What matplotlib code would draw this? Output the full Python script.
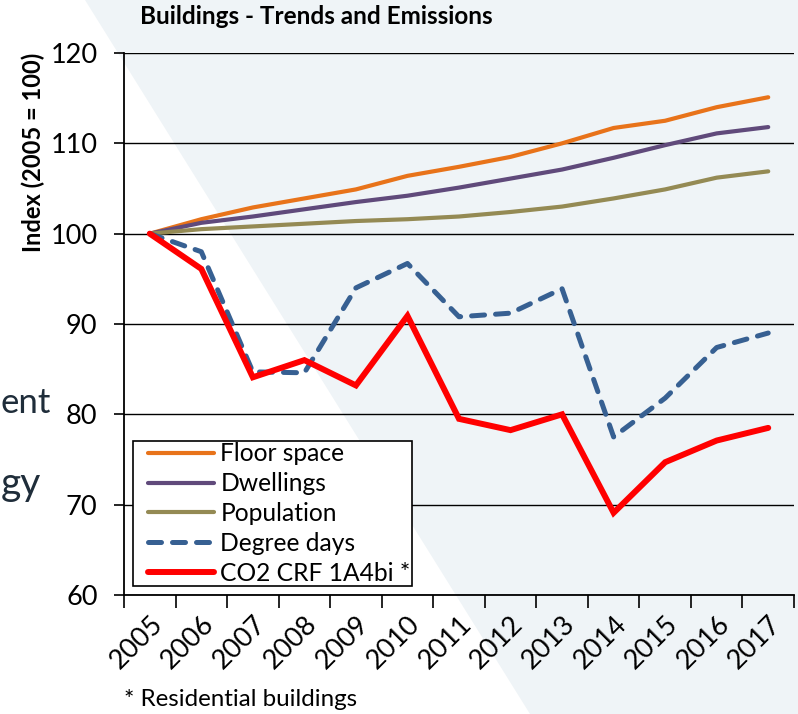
import matplotlib
matplotlib.use("Agg")
import matplotlib.pyplot as plt
from matplotlib.patches import Polygon
from matplotlib.legend_handler import HandlerLine2D
import numpy as np

years = ["2005", "2006", "2007", "2008", "2009", "2010", "2011",
         "2012", "2013", "2014", "2015", "2016", "2017"]
floor_space = [100, 101.6, 102.9, 103.9, 104.9, 106.4, 107.4, 108.5, 110.0, 111.7, 112.5, 114.0, 115.1]
dwellings = [100, 101.2, 101.9, 102.7, 103.5, 104.2, 105.1, 106.1, 107.1, 108.4, 109.8, 111.1, 111.8]
population = [100, 100.5, 100.8, 101.1, 101.4, 101.6, 101.9, 102.4, 103.0, 103.9, 104.9, 106.2, 106.9]
degree_days = [100, 98.0, 84.7, 84.6, 94.0, 96.7, 90.8, 91.2, 93.9, 77.5, 81.8, 87.4, 89.0]
co2 = [100, 96.1, 84.1, 86.0, 83.2, 90.9, 79.5, 78.25, 80.0, 69.1, 74.7, 77.1, 78.5]

W, H = 798, 714
fig = plt.figure(figsize=(W / 100, H / 100), dpi=100)
fig.patch.set_facecolor("#EFF4F7")

# white diagonal region (slide background)
tri = Polygon([(0, 1), (85 / W, 1), (530 / W, 0), (0, 0)], closed=True,
              transform=fig.transFigure, facecolor="white", edgecolor="none", zorder=-10)
fig.add_artist(tri)

font = "Lato"
ax = fig.add_axes([124 / W, 1 - 595 / H, (794 - 124) / W, (595 - 53) / H])
ax.set_facecolor("none")
ax.set_zorder(1)

x = np.arange(len(years))
ax.plot(x, floor_space, color="#E8731A", lw=3.0, solid_capstyle="round", label="Floor space", zorder=3)
ax.plot(x, dwellings, color="#604A7B", lw=3.0, solid_capstyle="round", label="Dwellings", zorder=3)
ax.plot(x, population, color="#948A54", lw=3.0, solid_capstyle="round", label="Population", zorder=3)
ax.plot(x, degree_days, color="#376092", lw=3.6, dashes=(2.6, 2.2), dash_capstyle="round",
        label="Degree days", zorder=4)
ax.plot(x, co2, color="#FF0000", lw=4.3, solid_capstyle="round", solid_joinstyle="miter",
        label="CO2 CRF 1A4bi *", zorder=5)

ax.set_xlim(-0.5, len(years) - 0.5)
ax.set_ylim(60, 120)
ax.set_yticks(np.arange(60, 121, 10))
ax.yaxis.grid(True, color="black", lw=1.0)
ax.set_axisbelow(True)

tick_fs = 19.5
ax.set_xticks(x)
ax.set_xticklabels(years, rotation=45, ha="right", va="top", rotation_mode="anchor",
                   fontsize=tick_fs, family=font)
ax.tick_params(axis="x", which="major", length=0, pad=12)
ax.set_xticks(np.arange(-0.5, len(years), 1.0), minor=True)
ax.tick_params(axis="x", which="minor", length=9, width=1.2, direction="out")
ax.tick_params(axis="y", length=7, width=1.2, direction="out", pad=12)
for lab in ax.get_yticklabels():
    lab.set_fontsize(tick_fs)
    lab.set_family(font)

for s in ["top", "right"]:
    ax.spines[s].set_visible(False)
for s in ["left", "bottom"]:
    ax.spines[s].set_linewidth(1.3)
    ax.spines[s].set_color("black")


class ShiftedLine(HandlerLine2D):
    shift = 10.0  # points

    def create_artists(self, legend, orig_handle, xdescent, ydescent, width, height,
                       fontsize, trans):
        arts = super().create_artists(legend, orig_handle, xdescent, ydescent, width,
                                      height, fontsize, trans)
        for a in arts:
            a.set_xdata(np.asarray(a.get_xdata()) + self.shift)
        return arts


leg = ax.legend(loc="lower left", bbox_to_anchor=(9 / 670, 9 / 542), borderaxespad=0,
                frameon=True, fancybox=False, framealpha=1, edgecolor="black",
                prop={"family": font, "size": 17.7}, handlelength=2.68, handletextpad=0.82,
                labelspacing=0.28, borderpad=0.05,
                handler_map={matplotlib.lines.Line2D: ShiftedLine()})
leg.get_frame().set_linewidth(1.2)

fig.text(33 / W, 1 - 152 / H, "Index (2005 = 100)", fontsize=17, fontweight="bold",
         family=font, rotation=90, ha="center", va="center")
fig.text(140 / W, 1 - 17 / H, "Buildings - Trends and Emissions", fontsize=17.5,
         fontweight="bold", family=font, ha="left", va="center")
fig.text(124 / W, 1 - 700 / H, "* Residential buildings", fontsize=17.4, family=font,
         ha="left", va="center")

fig.text(1 / W, 1 - 413 / H, "ent", fontsize=25, family=font,
         color="#1F2D3A", ha="left", va="baseline")
fig.text(1 / W, 1 - 495 / H, "gy", fontsize=28, family=font,
         color="#1F2D3A", ha="left", va="baseline")

fig.savefig("out.png", dpi=100, facecolor=fig.get_facecolor())
